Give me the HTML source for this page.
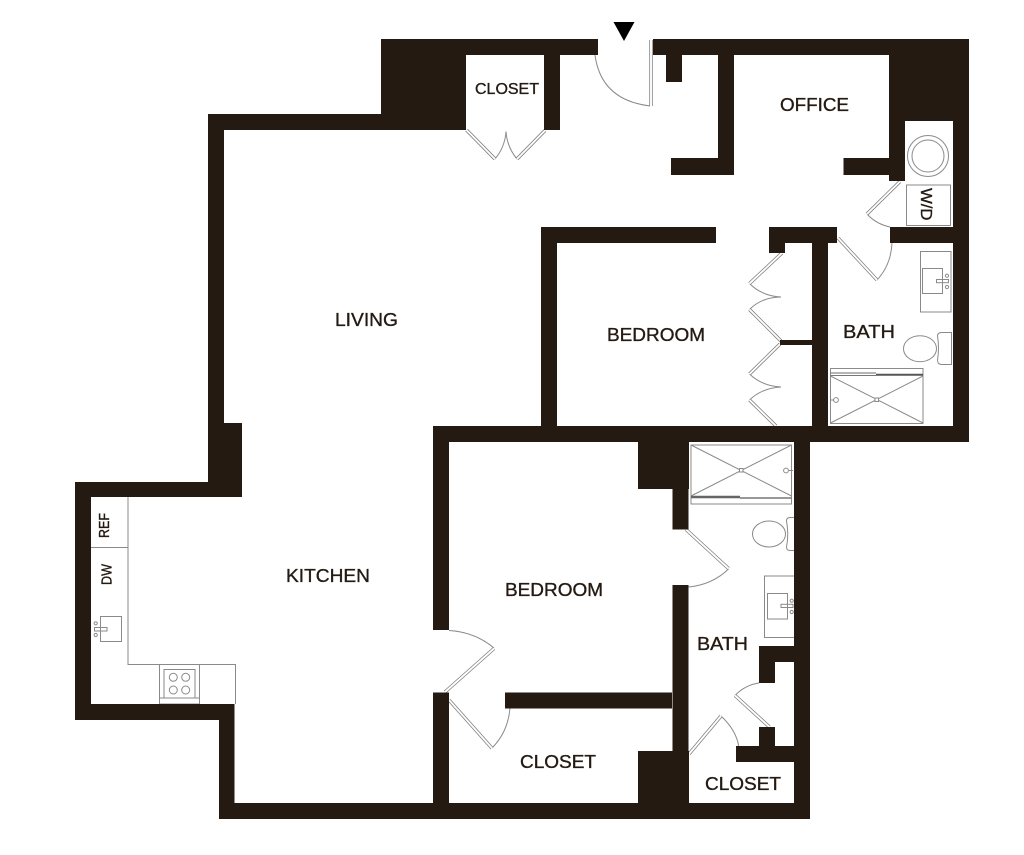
<!DOCTYPE html>
<html><head><meta charset="utf-8"><style>
html,body{margin:0;padding:0;background:#fff}
svg{display:block}
.w{fill:#241a12}
.t{fill:none;stroke:#8a8a8a;stroke-width:1}
.o{fill:none;stroke:#7d7d7d;stroke-width:3.4}
.i{fill:none;stroke:#fff;stroke-width:1.9}
text{font-family:"Liberation Sans",sans-serif;fill:#241a12;stroke:#241a12;stroke-width:.35px;font-size:18.5px}
</style></head><body>
<svg width="1024" height="855" viewBox="0 0 1024 855" xmlns="http://www.w3.org/2000/svg">
<rect width="1024" height="855" fill="#fff"/>
<polygon points="613.5,22 634.5,22 624,41" fill="#000"/>
<!-- thin fixtures -->
<g class="t">
<path d="M128 497V664.5H235.5V704"/>
<path d="M91 547.5H128"/>
<rect x="159.5" y="664.5" width="40" height="39.5"/>
<rect x="164" y="669.5" width="31" height="28.5"/>
<path d="M159.5 698H199.5"/>
<circle cx="173.3" cy="677.3" r="4"/><circle cx="185.7" cy="677.3" r="4"/>
<circle cx="173.3" cy="690" r="4"/><circle cx="185.7" cy="690" r="4"/>
<rect x="100.5" y="616.5" width="21" height="25"/>
<rect x="94.5" y="627.5" width="12.5" height="3.5"/>
<circle cx="95.7" cy="623.3" r="1.6"/><circle cx="95.7" cy="635" r="1.6"/>
<circle cx="928" cy="156" r="20.5"/><circle cx="928" cy="156" r="16"/>
<rect x="906.5" y="185" width="44" height="40.5"/>
<!-- bath 1 -->
<rect x="920.5" y="251.5" width="30.5" height="60.5"/>
<rect x="922.5" y="268.5" width="20" height="25"/>
<rect x="936.5" y="279.5" width="12" height="3.2"/>
<circle cx="947" cy="275.7" r="1.6"/><circle cx="947" cy="287" r="1.6"/>
<ellipse cx="920" cy="348.7" rx="16.5" ry="13"/>
<path d="M937.5 336Q937.5 332.5 942 332.5H951.5V364.5H942Q937.5 364.5 937.5 360Q939.5 348 937.5 336Z"/>
<rect x="830.5" y="368.5" width="92.5" height="55"/>
<path d="M830.5 376L923 423M923 376L830.5 423"/>
<rect x="875" y="398" width="3.5" height="3.5" fill="#fff"/>
<path d="M830.5 400H834"/><circle cx="836" cy="400" r="2.4"/>
<!-- bath 2 -->
<rect x="691" y="445" width="100.5" height="59"/>
<path d="M691 445L791.5 496M791.5 445L691 496"/>
<rect x="739.5" y="468.5" width="3.5" height="3.5" fill="#fff"/>
<path d="M793 470.5H789"/><circle cx="786" cy="470.5" r="2.4"/>
<ellipse cx="769" cy="534" rx="16.5" ry="13"/>
<path d="M794 517.5H790Q786.5 517.5 786.5 521Q789 534 786.5 547Q786.5 550.5 790 550.5H794"/>
<path d="M794 576H764.5V637.5H794"/>
<rect x="767.5" y="593.5" width="20" height="25.5"/>
<rect x="781" y="604.3" width="12" height="3.2"/>
<circle cx="791.7" cy="600.7" r="1.6"/><circle cx="791.7" cy="612" r="1.6"/>
<!-- arcs -->
<path d="M595 55Q601 100 650 106"/>
<path d="M495 159Q505 147 506 131.5M517 159Q507 147 506 131.5"/>
<path d="M867 214Q876 224 890 227"/>
<path d="M877 280Q891 265 892 243"/>
<path d="M749.5 283.5Q762 296 781 297M749.5 309.5Q762 297 781 297"/>
<path d="M749.5 374Q762 386 781 387M749.5 400Q762 388 781 387"/>
<path d="M728.5 569Q712 585 688 587"/>
<path d="M735 695.5Q745 685 759 683"/>
<path d="M721 716Q736 730 738.7 746"/>
<path d="M494 648Q475 632 449 630.5"/>
<path d="M492 748Q508 732 510 708"/>
</g>
<path d="M691 497H740" stroke="#666" stroke-width="2.4" fill="none"/>
<path d="M740 498H791.5" stroke="#777" stroke-width="1.4" fill="none"/>
<path d="M830.5 373H876" stroke="#888" stroke-width="1.2" fill="none"/>
<path d="M876 374.800H923" stroke="#555" stroke-width="2" fill="none"/>
<path d="M830.5 375.500H876" stroke="#777" stroke-width="1" fill="none"/>
<!-- door leaves -->
<path class="o" d="M651 40V106M466.5 130L495 159M545 130.5L517 159M900 181.5L867 214M838 238L877 280M782 253L749.5 283.5M749.5 309.5L781 341M780 344L749.5 374M749.5 400L776 426M686 529.5L728.5 568.5M769.5 727L735 695.5M689 754L721 716M445 692L494 648.5M449 700L492 748.3"/>
<path class="i" d="M651 40V106M466.5 130L495 159M545 130.5L517 159M900 181.5L867 214M838 238L877 280M782 253L749.5 283.5M749.5 309.5L781 341M780 344L749.5 374M749.5 400L776 426M686 529.5L728.5 568.5M769.5 727L735 695.5M689 754L721 716M445 692L494 648.5M449 700L492 748.3"/>
<!-- walls -->
<g class="w">
<rect x="381" y="39" width="217" height="16"/>
<rect x="381" y="39" width="85" height="91"/>
<rect x="208" y="114" width="258" height="16"/>
<rect x="544" y="55" width="16" height="75"/>
<rect x="653" y="39" width="316" height="16"/>
<rect x="666" y="55" width="16" height="27"/>
<rect x="718" y="55" width="16" height="120"/>
<rect x="671" y="158" width="47" height="17"/>
<rect x="889" y="39" width="80" height="82"/>
<rect x="889" y="121" width="16" height="60"/>
<rect x="843.500" y="158" width="46" height="17"/>
<rect x="953" y="121" width="16" height="320"/>
<rect x="890" y="227" width="63" height="16"/>
<rect x="769" y="227" width="68" height="16"/>
<rect x="769" y="243" width="16" height="10"/>
<rect x="812" y="243" width="16" height="183"/>
<rect x="780" y="340" width="32" height="5"/>
<rect x="541" y="227" width="175" height="16"/>
<rect x="541" y="227" width="16" height="199"/>
<rect x="433" y="426" width="536" height="16"/>
<rect x="208" y="114" width="16" height="309"/>
<rect x="208" y="423" width="34" height="74"/>
<rect x="75" y="482" width="167" height="15"/>
<rect x="75" y="482" width="16" height="238"/>
<rect x="75" y="704" width="159" height="16"/>
<rect x="219" y="704" width="15.500" height="115"/>
<rect x="219" y="803" width="591" height="16"/>
<rect x="794" y="442" width="16" height="377"/>
<rect x="433" y="442" width="16" height="188"/>
<rect x="433" y="692.500" width="16" height="111"/>
<rect x="505" y="692.500" width="167" height="16"/>
<rect x="638" y="442" width="51" height="47"/>
<rect x="672.500" y="442" width="16" height="87.500"/>
<rect x="672.500" y="585" width="16" height="234"/>
<rect x="638" y="751" width="51" height="60"/>
<rect x="759" y="646" width="35" height="16"/>
<rect x="759" y="646" width="16" height="37"/>
<rect x="736" y="746" width="58" height="16"/>
<rect x="759" y="727" width="16" height="20"/>
</g>
<!-- labels -->
<text x="475" y="94" style="font-size:16px" textLength="64" lengthAdjust="spacingAndGlyphs">CLOSET</text>
<text x="780" y="111" textLength="69" lengthAdjust="spacingAndGlyphs">OFFICE</text>
<text x="335" y="326" textLength="63" lengthAdjust="spacingAndGlyphs">LIVING</text>
<text x="607" y="341" textLength="98" lengthAdjust="spacingAndGlyphs">BEDROOM</text>
<text x="843" y="338" textLength="52" lengthAdjust="spacingAndGlyphs">BATH</text>
<text x="286" y="582" textLength="84" lengthAdjust="spacingAndGlyphs">KITCHEN</text>
<text x="505" y="596" textLength="98" lengthAdjust="spacingAndGlyphs">BEDROOM</text>
<text x="697" y="650" textLength="51" lengthAdjust="spacingAndGlyphs">BATH</text>
<text x="520" y="768" textLength="76" lengthAdjust="spacingAndGlyphs">CLOSET</text>
<text x="705" y="790" textLength="76" lengthAdjust="spacingAndGlyphs">CLOSET</text>
<text transform="translate(109 538) rotate(-90)" style="font-size:15px" textLength="25" lengthAdjust="spacingAndGlyphs">REF</text>
<text transform="translate(111.700 585) rotate(-90)" style="font-size:15px" textLength="21" lengthAdjust="spacingAndGlyphs">DW</text>
<text transform="translate(921 188) rotate(90)" style="font-size:15.5px" textLength="32.500" lengthAdjust="spacingAndGlyphs">W/D</text>
</svg>
</body></html>
